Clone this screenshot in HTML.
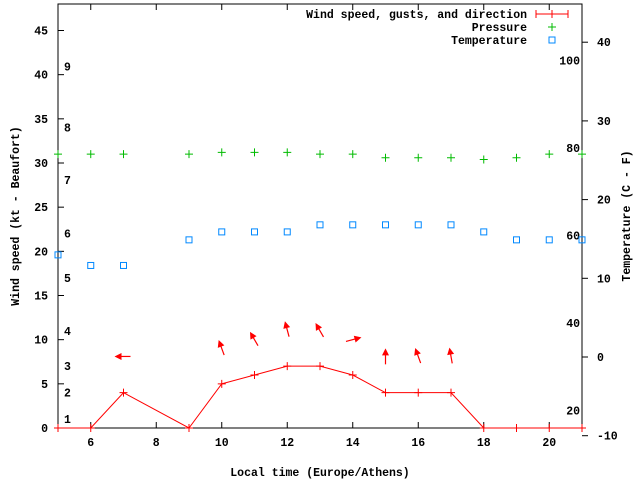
<!DOCTYPE html>
<html><head><meta charset="utf-8"><style>
body{margin:0;background:#fff}
svg{font-family:"Liberation Mono","DejaVu Sans Mono",monospace;font-size:11.5px;font-weight:bold}
</style></head><body>
<svg id="c" width="640" height="480" xmlns="http://www.w3.org/2000/svg"></svg>
<script>
const hours=[5,6,7,9,10,11,12,13,14,15,16,17,18,19,20,21];
const wind=[0,0,4,0,5,6,7,7,6,4,4,4,0,0,0,0];
const pressure=[31,31,31,31,31.2,31.2,31.2,31,31,30.6,30.6,30.6,30.4,30.6,31,31];
const temperature=[19.6,18.4,18.4,21.3,22.2,22.2,22.2,23,23,23,23,23,22.2,21.3,21.3,21.3];
const arrowHours=[7,10,11,12,13,14,15,16,17];
const arrowLevel=[8.1,9.0,10.0,11.1,11.0,10.0,8.0,8.1,8.1];
const arrowDir=[270,340,330,345,330,75,0,340,350];
const xTicks=[6,8,10,12,14,16,18,20];
const yTicks=[0,5,10,15,20,25,30,35,40,45];
const cTicks=[-10,0,10,20,30,40];
const fLabels=[20,40,60,80,100];
const bLabels=[1,2,3,4,5,6,7,8,9];
const bKt=[1,4,7,11,17,22,28.1,34,40.9];

const L=58,R=582,T=4,B=428;
const X=v=>L+(v-5)*(R-L)/16;
const Y=v=>B-v*(B-T)/48;
const YC=c=>357-c*7.87;
const YF=f=>YC((f-32)*5/9);
const svg=document.getElementById('c');
const NS='http://www.w3.org/2000/svg';
function mk(t,a,p,name){const e=document.createElementNS(NS,t);for(const k in a)e.setAttribute(k,a[k]);


(p||svg).appendChild(e);return e;}
function txt(x,y,s,anchor,name){const e=mk('text',{x:x,y:y,'text-anchor':anchor||'start'},svg,name);e.textContent=s;return e;}

mk('rect',{x:L,y:T,width:R-L,height:B-T,fill:'none',stroke:'#000','stroke-width':1},svg,'plot-frame');
xTicks.forEach(v=>{const x=X(v);mk('line',{x1:x,y1:B,x2:x,y2:B-6,stroke:'#000'},svg,'x-tick');mk('line',{x1:x,y1:T,x2:x,y2:T+6,stroke:'#000'},svg,'x-tick-top');txt(x,446,String(v),'middle','x-tick-label');});
yTicks.forEach(v=>{const y=Y(v);mk('line',{x1:L,y1:y,x2:L+6,y2:y,stroke:'#000'},svg,'y-tick');txt(L-10,y+4,String(v),'end','y-tick-label');});
cTicks.forEach(v=>{const y=YC(v);mk('line',{x1:R,y1:y,x2:R+6,y2:y,stroke:'#000'},svg,'y2-tick');txt(597,y+4,String(v),'start','y2-tick-label');});
fLabels.forEach(v=>{txt(R-2,YF(v)+5,String(v),'end','fahrenheit-label');});
bLabels.forEach((v,i)=>{txt(64,Y(bKt[i])+4,String(v),'start','beaufort-label');});
txt(320,476,'Local time (Europe/Athens)','middle','x-axis-title');
const yt=txt(0,0,'Wind speed (kt - Beaufort)','middle','y-axis-title');yt.setAttribute('transform','translate(19,216) rotate(-90)');
const y2=txt(0,0,'Temperature (C - F)','middle','y2-axis-title');y2.setAttribute('transform','translate(630,216) rotate(-90)');

mk('polyline',{points:hours.map((h,i)=>X(h)+','+Y(wind[i])).join(' '),fill:'none',stroke:'#f00','stroke-width':1},svg,'wind-line');
hours.forEach((h,i)=>{const x=X(h),y=Y(wind[i]);mk('path',{d:`M${x-4},${y}h8M${x},${y-4}v8`,stroke:'#f00'},svg,'wind-point');});
arrowHours.forEach((h,i)=>{const cx=X(h),cy=Y(arrowLevel[i]);const a=arrowDir[i]*Math.PI/180;const dx=Math.sin(a),dy=-Math.cos(a);const l=7;
const tx=cx+dx*l,ty=cy+dy*l,bx=cx-dx*l,by=cy-dy*l;
const g=mk('g',{},svg,'wind-direction-arrow');
mk('line',{x1:bx,y1:by,x2:tx,y2:ty,stroke:'#f00','stroke-width':1.2},g,'arrow-shaft');
const px=-dy,py=dx;
mk('polygon',{points:`${tx+dx*2},${ty+dy*2} ${tx-dx*5+px*3.5},${ty-dy*5+py*3.5} ${tx-dx*5-px*3.5},${ty-dy*5-py*3.5}`,fill:'#f00'},g,'arrow-head');});
hours.forEach((h,i)=>{const x=X(h),y=Y(pressure[i]);mk('path',{d:`M${x-4},${y}h8M${x},${y-4}v8`,stroke:'#0b0'},svg,'pressure-point');});
hours.forEach((h,i)=>{const x=X(h),y=Y(temperature[i]);mk('rect',{x:x-3,y:y-3,width:6,height:6,fill:'none',stroke:'#08f'},svg,'temperature-point');});
txt(527,18,'Wind speed, gusts, and direction','end','legend-wind-label');
mk('path',{d:'M536,14h32M536,10v8M568,10v8M552,10v8',stroke:'#f00'},svg,'legend-wind-symbol');
txt(527,31,'Pressure','end','legend-pressure-label');
mk('path',{d:'M548,27h8M552,23v8',stroke:'#0b0'},svg,'legend-pressure-symbol');
txt(527,44,'Temperature','end','legend-temperature-label');
mk('rect',{x:549,y:37,width:6,height:6,fill:'none',stroke:'#08f'},svg,'legend-temperature-symbol');
</script>
</body></html>
